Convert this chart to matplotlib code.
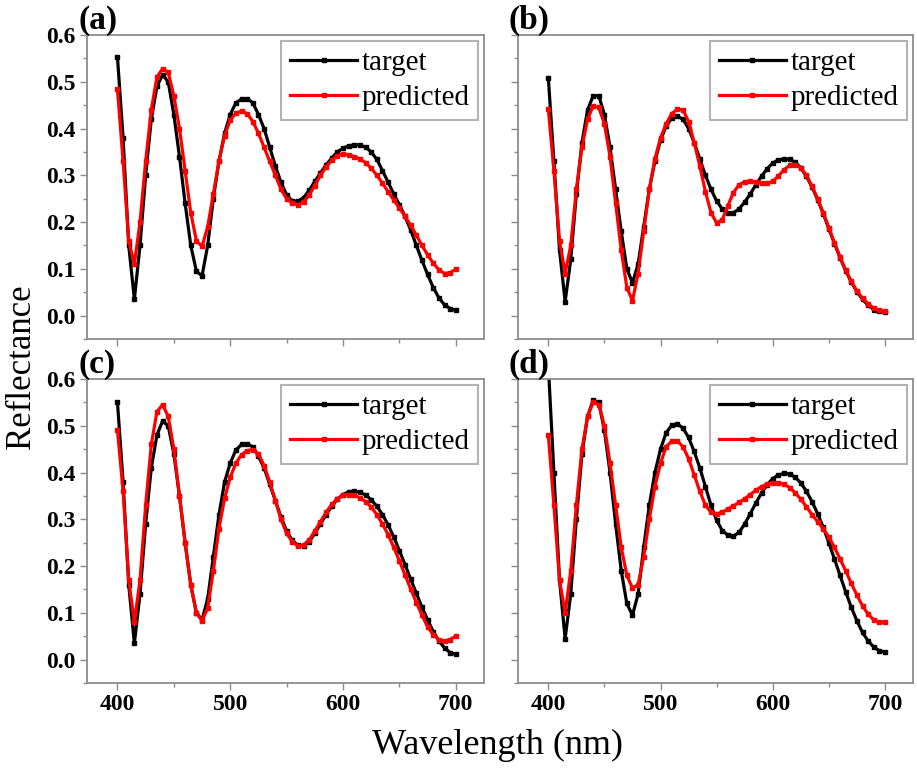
import numpy as np
import matplotlib
matplotlib.use("Agg")
import matplotlib.pyplot as plt
from matplotlib.ticker import MultipleLocator

plt.rcParams['font.family'] = ['Liberation Serif', 'DejaVu Serif']

# wavelength grid (nm), 5 nm step
wl = np.arange(400, 701, 5)

# (a)
a_target = [0.553, 0.38, 0.15, 0.035, 0.15, 0.30, 0.42, 0.49, 0.515, 0.50,
            0.43, 0.34, 0.24, 0.15, 0.095, 0.085, 0.15, 0.25, 0.33, 0.39,
            0.43, 0.455, 0.463, 0.464, 0.455, 0.43, 0.40, 0.36, 0.32, 0.285,
            0.258, 0.245, 0.245, 0.252, 0.268, 0.287, 0.305, 0.322, 0.337, 0.35,
            0.358, 0.363, 0.365, 0.365, 0.36, 0.35, 0.334, 0.31, 0.285, 0.26,
            0.237, 0.212, 0.183, 0.15, 0.118, 0.088, 0.06, 0.038, 0.023, 0.015,
            0.011]
a_pred = [0.484, 0.33, 0.16, 0.11, 0.20, 0.33, 0.44, 0.51, 0.528, 0.52,
          0.47, 0.40, 0.31, 0.22, 0.16, 0.148, 0.19, 0.26, 0.33, 0.385,
          0.418, 0.433, 0.437, 0.432, 0.415, 0.39, 0.36, 0.33, 0.30, 0.27,
          0.25, 0.24, 0.237, 0.243, 0.258, 0.278, 0.30, 0.318, 0.332, 0.342,
          0.346, 0.344, 0.34, 0.335, 0.327, 0.315, 0.30, 0.283, 0.265, 0.247,
          0.23, 0.212, 0.193, 0.172, 0.15, 0.13, 0.112, 0.098, 0.09, 0.092,
          0.099]
# (b)
b_target = [0.509, 0.33, 0.14, 0.03, 0.12, 0.26, 0.37, 0.44, 0.47, 0.47,
            0.43, 0.36, 0.27, 0.18, 0.10, 0.07, 0.11, 0.19, 0.27, 0.33,
            0.375, 0.405, 0.422, 0.426, 0.42, 0.40, 0.37, 0.335, 0.30, 0.27,
            0.245, 0.228, 0.22, 0.22, 0.228, 0.243, 0.26, 0.28, 0.298, 0.314,
            0.326, 0.333, 0.335, 0.334, 0.328, 0.316, 0.298, 0.275, 0.248, 0.218,
            0.186, 0.154, 0.124, 0.096, 0.072, 0.051, 0.035, 0.022, 0.013, 0.009,
            0.007]
b_pred = [0.442, 0.31, 0.16, 0.09, 0.15, 0.27, 0.36, 0.42, 0.448, 0.445,
          0.41, 0.34, 0.24, 0.14, 0.06, 0.032, 0.09, 0.18, 0.27, 0.335,
          0.38, 0.41, 0.432, 0.441, 0.44, 0.415, 0.37, 0.32, 0.265, 0.22,
          0.198, 0.205, 0.235, 0.263, 0.28, 0.286, 0.287, 0.285, 0.283, 0.283,
          0.287, 0.298, 0.312, 0.321, 0.323, 0.316, 0.30, 0.277, 0.25, 0.22,
          0.188, 0.156, 0.125, 0.097, 0.073, 0.053, 0.037, 0.025, 0.016, 0.011,
          0.009]
# (c)
c_target = [0.55, 0.38, 0.16, 0.035, 0.14, 0.29, 0.41, 0.48, 0.51, 0.50,
            0.44, 0.35, 0.25, 0.16, 0.10, 0.085, 0.13, 0.22, 0.31, 0.38,
            0.42, 0.448, 0.46, 0.461, 0.455, 0.435, 0.41, 0.375, 0.34, 0.305,
            0.275, 0.255, 0.244, 0.243, 0.252, 0.27, 0.29, 0.31, 0.328, 0.343,
            0.353, 0.359, 0.36, 0.358, 0.352, 0.342, 0.328, 0.31, 0.288, 0.262,
            0.233, 0.203, 0.172, 0.142, 0.112, 0.085, 0.06, 0.04, 0.025, 0.015,
            0.011]
c_pred = [0.491, 0.36, 0.17, 0.08, 0.17, 0.33, 0.46, 0.53, 0.545, 0.52,
          0.45, 0.35, 0.25, 0.16, 0.10, 0.083, 0.11, 0.19, 0.28, 0.345,
          0.39, 0.42, 0.438, 0.447, 0.449, 0.44, 0.415, 0.38, 0.34, 0.30,
          0.27, 0.252, 0.243, 0.245, 0.256, 0.275, 0.295, 0.315, 0.332, 0.344,
          0.351, 0.353, 0.351, 0.346, 0.338, 0.326, 0.31, 0.29, 0.267, 0.24,
          0.211, 0.181, 0.151, 0.122, 0.095, 0.07, 0.053, 0.043, 0.04, 0.043,
          0.05]
# (d)
d_target = [0.63, 0.40, 0.17, 0.045, 0.14, 0.30, 0.44, 0.52, 0.555, 0.55,
            0.49, 0.40, 0.29, 0.19, 0.12, 0.095, 0.14, 0.24, 0.33, 0.40,
            0.45, 0.485, 0.501, 0.504, 0.495, 0.475, 0.445, 0.41, 0.37, 0.33,
            0.298, 0.276, 0.266, 0.264, 0.272, 0.29, 0.312, 0.335, 0.356, 0.374,
            0.387, 0.395, 0.398, 0.397, 0.39, 0.378, 0.36, 0.338, 0.312, 0.283,
            0.25, 0.215, 0.18, 0.145, 0.112, 0.083, 0.058, 0.04, 0.027, 0.019,
            0.016]
d_pred = [0.481, 0.33, 0.17, 0.10, 0.19, 0.33, 0.45, 0.52, 0.55, 0.545,
          0.50, 0.42, 0.33, 0.24, 0.18, 0.153, 0.16, 0.22, 0.30, 0.37,
          0.42, 0.455, 0.467, 0.468, 0.455, 0.43, 0.395, 0.36, 0.33, 0.315,
          0.312, 0.315, 0.322, 0.329, 0.336, 0.344, 0.353, 0.362, 0.37, 0.375,
          0.378, 0.378, 0.375, 0.368, 0.357, 0.343, 0.327, 0.31, 0.295, 0.28,
          0.262, 0.24, 0.215, 0.19, 0.163, 0.138, 0.115, 0.097, 0.085, 0.08,
          0.08]

panels = [("(a)", a_target, a_pred), ("(b)", b_target, b_pred),
          ("(c)", c_target, c_pred), ("(d)", d_target, d_pred)]

W, H = 917, 771
fig = plt.figure(figsize=(W / 100, H / 100), dpi=100)

# axes boxes in pixels: left, top, right, bottom
boxes = [(87, 35, 484, 339), (518, 35, 913, 339),
         (87, 379, 484, 683), (518, 379, 913, 683)]
grey = "#8c8c8c"

for i, ((lab, tgt, prd), (l, t, r, b)) in enumerate(zip(panels, boxes)):
    ax = fig.add_axes([l / W, 1 - b / H, (r - l) / W, (b - t) / H])
    ax.plot(wl, tgt, color="black", lw=2.3, marker="s", ms=3,
            label="target")
    ax.plot(wl, prd, color="red", lw=2.3, marker="s", ms=3,
            label="predicted")
    ax.set_xlim(373, 725)
    ax.set_ylim(-0.05, 0.6)
    ax.xaxis.set_major_locator(MultipleLocator(100))
    ax.xaxis.set_minor_locator(MultipleLocator(50))
    ax.yaxis.set_major_locator(MultipleLocator(0.1))
    ax.yaxis.set_minor_locator(MultipleLocator(0.05))
    for s in ax.spines.values():
        s.set_color(grey); s.set_linewidth(1.3)
    ax.tick_params(which="both", direction="out", color=grey, width=1.0,
                   labelsize=17, pad=3)
    ax.tick_params(which="major", length=5)
    ax.tick_params(which="minor", length=3)
    for tl in ax.get_xticklabels() + ax.get_yticklabels():
        tl.set_fontweight("bold")
    if i % 2 == 1:
        ax.tick_params(labelleft=False)
    if i < 2:
        ax.tick_params(labelbottom=False)
    leg = ax.legend(loc="upper right", fontsize=21, frameon=True,
                    fancybox=False, borderaxespad=0.2, borderpad=0.3,
                    labelspacing=0.3, handlelength=2.3, handletextpad=0.15)
    leg.get_frame().set_edgecolor("#a0a0a0")
    leg.get_frame().set_linewidth(1.5)
    fig.text((l - 9) / W, 1 - (t - 6) / H, lab, fontsize=24,
             fontweight="bold", va="baseline", ha="left")

fig.text(22 / W, 1 - 367 / H, "Reflectance", rotation=90, fontsize=25,
         ha="center", va="center")
fig.text(497 / W, 1 - 745 / H, "Wavelength (nm)", fontsize=26,
         ha="center", va="center")

fig.savefig("out.png", dpi=100)
